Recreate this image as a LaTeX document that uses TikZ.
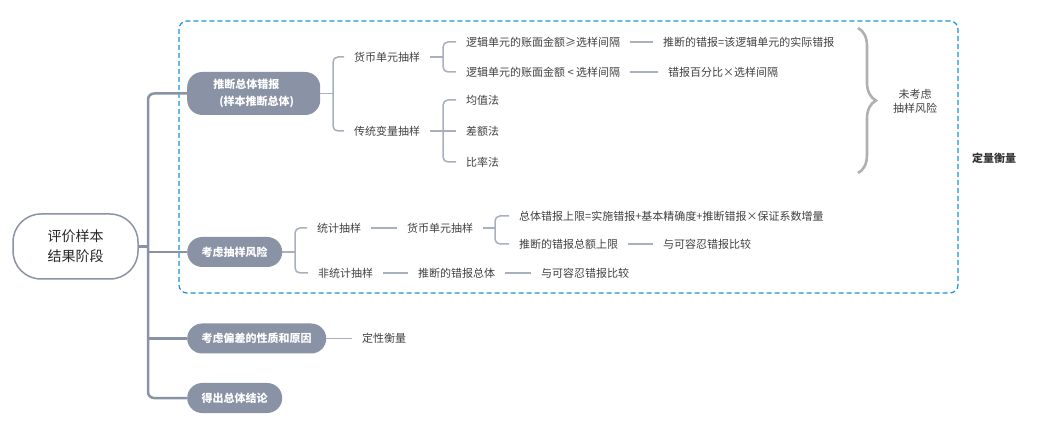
\documentclass[tikz,border=0pt]{standalone}
\usepackage{fontspec}
\setmainfont{Noto Sans CJK SC}
\usepackage{tikz}
\usetikzlibrary{decorations.pathreplacing}
\definecolor{topicgray}{HTML}{8A93A5}
\definecolor{linegray}{HTML}{A8B0BE}
\definecolor{boxblue}{HTML}{1B8FDB}
\definecolor{txtgray}{HTML}{404040}
\definecolor{bracegray}{HTML}{B0B0B0}
\tikzset{
  root/.style={draw=topicgray, line width=1.5pt, rounded corners=28pt, minimum width=125pt, minimum height=65pt, align=center, font=\fontsize{14}{20}\selectfont, text=black!85},
  topic/.style={fill=topicgray, text=white, font=\bfseries\fontsize{11}{16.5}\selectfont, rounded corners=15pt, minimum height=30pt, inner xsep=14.5pt, anchor=west},
  leaf/.style={font=\fontsize{11}{13}\selectfont, text=txtgray, inner xsep=10pt, inner ysep=2pt, anchor=west},
  trunk/.style={draw=topicgray, line width=2.5pt, rounded corners=6pt},
  branch/.style={draw=linegray, line width=1.5pt, rounded corners=5pt},
}
\begin{document}
\begin{tikzpicture}[x=1pt, y=-1pt]
\useasboundingbox (0,0) rectangle (1060,443);
\draw[boxblue, line width=1.2pt, dash pattern=on 5pt off 3pt, rounded corners=8pt] (179,21) rectangle (958,293);
\node[root] (R) at (75.5,246.5) {评价样本\\结果阶段};
\node[topic, minimum width=133pt, minimum height=43pt, align=left] (T1) at (187,93.5) {推断总体错报\\\hspace{6pt}(样本推断总体)};
\node[topic] (T2) at (187,252) {考虑抽样风险};
\node[topic] (T3) at (187,338.5) {考虑偏差的性质和原因};
\node[topic] (T4) at (187,398) {得出总体结论};
\node[leaf] (A1) at (344,57) {货币单元抽样};
\node[leaf] (A2) at (344,131) {传统变量抽样};
\node[leaf] (A11) at (456,42) {逻辑单元的账面金额≥选样间隔};
\node[leaf] (A12) at (456,72) {逻辑单元的账面金额 < 选样间隔};
\node[leaf] (A111) at (653,42) {推断的错报=该逻辑单元的实际错报};
\node[leaf] (A121) at (658,72) {错报百分比×选样间隔};
\node[leaf] (A21) at (456,100) {均值法};
\node[leaf] (A22) at (456,131) {差额法};
\node[leaf] (A23) at (456,162) {比率法};
\node[leaf, anchor=center, align=center, font=\fontsize{11}{14}\selectfont] (U) at (915,101) {未考虑\\抽样风险};
\node[leaf, anchor=center, text=black!80, font=\bfseries\fontsize{11}{13}\selectfont] (Q) at (994,158) {定量衡量};
\node[leaf] (B1) at (307,228) {统计抽样};
\node[leaf] (B2) at (308,273) {非统计抽样};
\node[leaf] (B11) at (397,228) {货币单元抽样};
\node[leaf] (B111) at (509,216) {总体错报上限=实施错报+基本精确度+推断错报×保证系数增量};
\node[leaf] (B112) at (509,244) {推断的错报总额上限};
\node[leaf] (B113) at (653,244) {与可容忍错报比较};
\node[leaf] (B21) at (408,273) {推断的错报总体};
\node[leaf] (B22) at (531,273) {与可容忍错报比较};
\node[leaf] (C1) at (352,338.5) {定性衡量};
\coordinate (J0) at (148,246.5);
\draw[trunk] (R.east) -- (J0);
\draw[trunk] (T1.west) -| (J0) |- (T4.west);
\draw[trunk] (J0 |- T2.west) -- (T2.west);
\draw[trunk] (J0 |- T3.west) -- (T3.west);
\coordinate (J1) at (333,93.5);
\draw[branch] (T1.east) -- (J1);
\draw[branch] (A1.west) -| (J1) |- (A2.west);
\coordinate (J2) at (443,57);
\draw[branch] (A1.east) -- (J2);
\draw[branch] (A11.west) -| (J2) |- (A12.west);
\draw[branch] (A11) -- (A111);
\draw[branch] (A12) -- (A121);
\coordinate (J3) at (443,131);
\draw[branch] (A2.east) -- (J3) -- (A22.west);
\draw[branch] (A21.west) -| (J3) |- (A23.west);
\draw[bracegray, line width=2.6pt, decorate, decoration={brace, amplitude=18pt}] (858,28) -- (858,173);
\coordinate (J4) at (295,252);
\draw[branch] (T2.east) -- (J4);
\draw[branch] (B1.west) -| (J4) |- (B2.west);
\draw[branch] (B1) -- (B11);
\coordinate (J5) at (495,228);
\draw[branch] (B11.east) -- (J5);
\draw[branch] (B111.west) -| (J5) |- (B112.west);
\draw[branch] (B112) -- (B113);
\draw[branch] (B2) -- (B21);
\draw[branch] (B21) -- (B22);
\draw[branch] (T3) -- (C1);
\end{tikzpicture}
\end{document}
